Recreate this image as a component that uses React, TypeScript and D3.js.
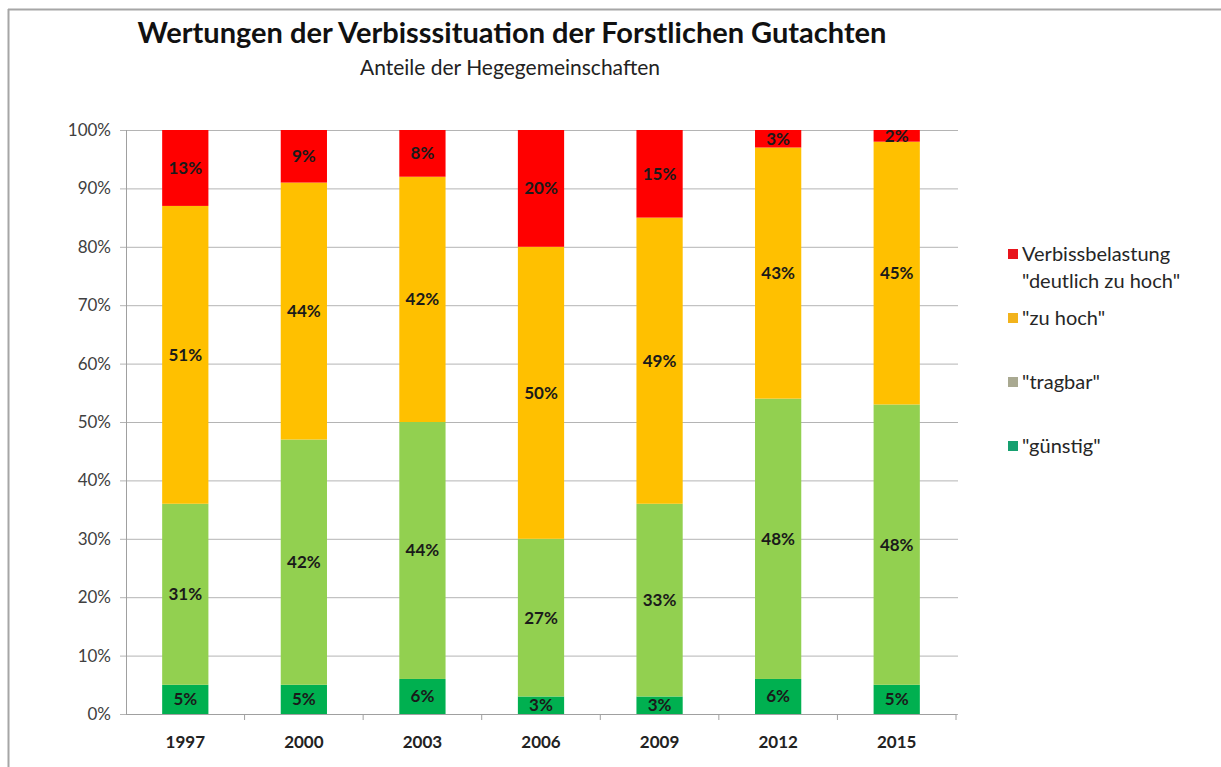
import * as d3 from 'd3';

const YEARS = ['1997', '2000', '2003', '2006', '2009', '2012', '2015'];
const GUENSTIG = [5, 5, 6, 3, 3, 6, 5];
const TRAGBAR = [31, 42, 44, 27, 33, 48, 48];
const ZU_HOCH = [51, 44, 42, 50, 49, 43, 45];
const DEUTLICH = [13, 9, 8, 20, 15, 3, 2];
const Y_TICKS = [0, 10, 20, 30, 40, 50, 60, 70, 80, 90, 100];

const KEYS = ['guenstig', 'tragbar', 'zuhoch', 'deutlich'] as const;
const BAR_COLORS: Record<string, string> = {
  guenstig: '#00B050',
  tragbar: '#92D050',
  zuhoch: '#FFC000',
  deutlich: '#FF0000',
};

const LEGEND = [
  { lines: ['Verbissbelastung', '"deutlich zu hoch"'], color: '#E8141C', y: 254 },
  { lines: ['"zu hoch"'], color: '#F2B31C', y: 318 },
  { lines: ['"tragbar"'], color: '#A9A991', y: 382 },
  { lines: ['"günstig"'], color: '#16A070', y: 446 },
];

const W = 1221, H = 767;
const PL = 126, PR = 956, PT = 130, PB = 714;
const FONT = 'Lato, "Open Sans", sans-serif';

export default function App() {
  const rows = YEARS.map((y, i) => ({
    year: y,
    guenstig: GUENSTIG[i],
    tragbar: TRAGBAR[i],
    zuhoch: ZU_HOCH[i],
    deutlich: DEUTLICH[i],
  }));
  const series = d3.stack<any>().keys(KEYS as any)(rows);

  const x = d3.scaleBand().domain(YEARS).range([PL, PR]).paddingInner(0.61).paddingOuter(0.305);
  const y = d3.scaleLinear().domain([0, 100]).range([PB, PT]);
  const step = x.step();

  return (
    <div style={{ position: 'absolute', left: 0, top: 0 }}>
      <svg width={W} height={H} style={{ display: 'block', background: '#fff', fontFamily: FONT }}>
        {/* frame */}
        <line x1={8} x2={W} y1={9.5} y2={9.5} stroke="#a6a6a6" strokeWidth={2} />
        <line x1={8.5} x2={8.5} y1={9} y2={H} stroke="#a6a6a6" strokeWidth={2} />

        <text x={512} y={43} textAnchor="middle" fontSize={29} fontWeight={700} fill="#111">
          Wertungen der Verbisssituation der Forstlichen Gutachten
        </text>
        <text x={510} y={75} textAnchor="middle" fontSize={21} fill="#222">
          Anteile der Hegegemeinschaften
        </text>

        {Y_TICKS.map(t => (
          <g key={t}>
            <line x1={PL - 6} x2={PR + 2} y1={y(t) + 0.5} y2={y(t) + 0.5} stroke="#b4b4b4" strokeWidth={1} />
            <text x={111} y={y(t) + 6} textAnchor="end" fontSize={17} fill="#404040">{t}%</text>
          </g>
        ))}
        <line x1={PL + 0.5} x2={PL + 0.5} y1={PT} y2={PB} stroke="#a0a0a0" />
        {YEARS.map((yr, i) => (
          <line key={'t' + yr} x1={PL + (i + 1) * step} x2={PL + (i + 1) * step} y1={PB} y2={PB + 6} stroke="#a0a0a0" />
        ))}
        <line x1={PL} x2={PR} y1={PB + 0.5} y2={PB + 0.5} stroke="#a0a0a0" />

        {series.map(s => (
          <g key={s.key} fill={BAR_COLORS[s.key]}>
            {s.map((d, i) => (
              <rect key={i} x={x(YEARS[i])} width={x.bandwidth()} y={y(d[1])} height={y(d[0]) - y(d[1])} />
            ))}
          </g>
        ))}
        {series.map(s => (
          <g key={'l' + s.key}>
            {s.map((d, i) => (
              <text key={i} x={x(YEARS[i])! + x.bandwidth() / 2} y={y((d[0] + d[1]) / 2) + 6}
                textAnchor="middle" fontSize={17} fontWeight={700} fill="#1a1a1a">
                {d[1] - d[0]}%
              </text>
            ))}
          </g>
        ))}

        {YEARS.map(yr => (
          <text key={'x' + yr} x={x(yr)! + x.bandwidth() / 2} y={748} textAnchor="middle" fontSize={17} fontWeight={700} fill="#222">
            {yr}
          </text>
        ))}

        {LEGEND.map(l => (
          <g key={l.lines[0]}>
            <rect x={1008} y={l.y - 5} width={10} height={10} fill={l.color} />
            {l.lines.map((t, j) => (
              <text key={j} x={1022} y={l.y + 7 + j * 27} fontSize={20} fill="#262626">{t}</text>
            ))}
          </g>
        ))}
      </svg>
    </div>
  );
}
